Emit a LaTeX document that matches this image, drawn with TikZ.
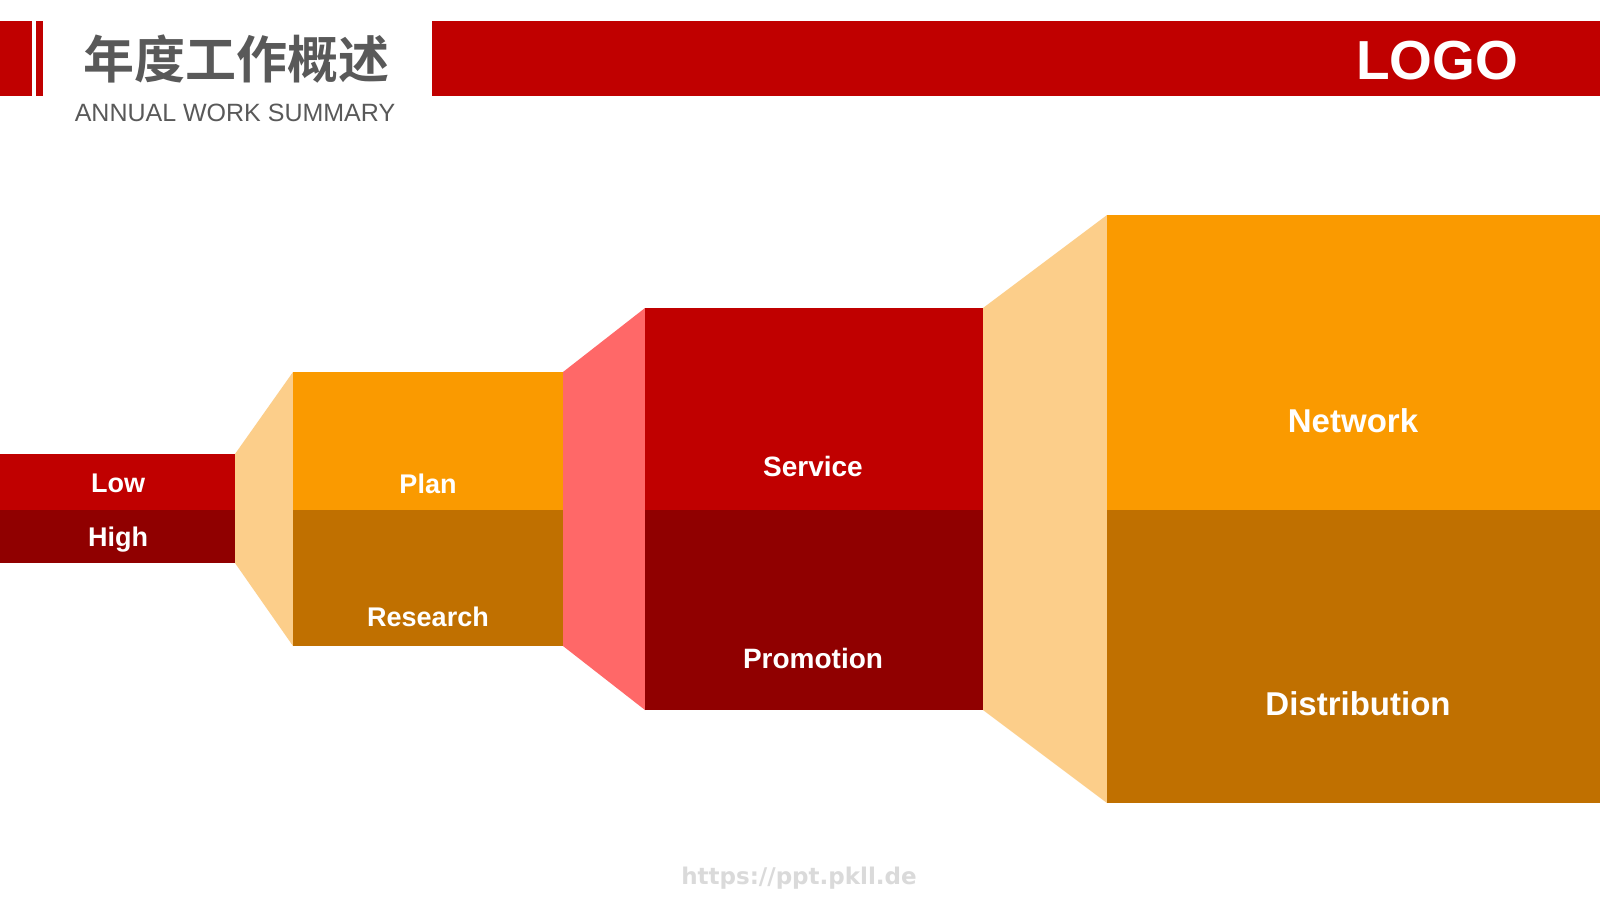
\documentclass[tikz,border=0pt]{standalone}
\usepackage{fontspec}
\setmainfont{Liberation Sans}
\newfontfamily\cjk{Noto Sans CJK SC}[BoldFont=* Bold]
\newfontfamily\wmfont{DejaVu Sans}
\definecolor{cRed}{HTML}{C00000}
\definecolor{cDarkRed}{HTML}{900000}
\definecolor{cOrange}{HTML}{FA9A00}
\definecolor{cDarkOrange}{HTML}{C07000}
\definecolor{cPeach}{HTML}{FCCE8A}
\definecolor{cPink}{HTML}{FF6868}
\definecolor{cGrayText}{HTML}{595959}
\definecolor{cWater}{HTML}{DADADA}
\tikzset{
  lab/.style={text=white, inner sep=0pt, anchor=base},
  labS/.style={lab, font=\fontsize{27}{27}\selectfont\bfseries},
  labM/.style={lab, font=\fontsize{28}{28}\selectfont\bfseries},
  labL/.style={lab, font=\fontsize{33}{33}\selectfont\bfseries},
}
\begin{document}
\begin{tikzpicture}[x=1pt,y=-1pt]
\useasboundingbox (0,0) rectangle (1600,900);
\fill[white] (0,0) rectangle (1600,900);
% header
\fill[cRed] (0,21) rectangle (32,96);
\fill[cRed] (36,21) rectangle (43,96);
\fill[cRed] (432,21) rectangle (1600,96);
\node[inner sep=0pt, text=cGrayText, font=\cjk\bfseries\fontsize{51}{51}\selectfont] (title) at (236,59) {年度工作概述};
\node[inner sep=0pt, anchor=base, text=cGrayText, font=\fontsize{25}{25}\selectfont] (subtitle) at (235,121) {ANNUAL WORK SUMMARY};
\node[inner sep=0pt, anchor=base, text=white, font=\fontsize{55}{55}\selectfont\bfseries] (logo) at (1437,79) {LOGO};
% funnel stage 0
\fill[cRed] (0,454) rectangle (235,510);
\fill[cDarkRed] (0,510) rectangle (235,563);
% connector 1
\fill[cPeach] (235,454) -- (293,372) -- (293,646) -- (235,563) -- cycle;
% stage 1
\fill[cOrange] (293,372) rectangle (563,510);
\fill[cDarkOrange] (293,510) rectangle (563,646);
% connector 2
\fill[cPink] (563,372) -- (645,308) -- (645,710) -- (563,646) -- cycle;
% stage 2
\fill[cRed] (645,308) rectangle (983,510);
\fill[cDarkRed] (645,510) rectangle (983,710);
% connector 3
\fill[cPeach] (983,308) -- (1107,215) -- (1107,803) -- (983,710) -- cycle;
% stage 3
\fill[cOrange] (1107,215) rectangle (1600,510);
\fill[cDarkOrange] (1107,510) rectangle (1600,803);
% labels
\node[labS] (low) at (118,492) {Low};
\node[labS] (high) at (118,546) {High};
\node[labS] (plan) at (428,493) {Plan};
\node[labS] (research) at (428,626) {Research};
\node[labM] (service) at (813,476) {Service};
\node[labM] (promotion) at (813,668) {Promotion};
\node[labL] (network) at (1353,432) {Network};
\node[labL] (distribution) at (1358,715) {Distribution};
% watermark
\node[inner sep=0pt, anchor=base, text=cWater, font=\wmfont\fontsize{23}{23}\selectfont\bfseries] (url) at (799,884) {https://ppt.pkll.de};
\end{tikzpicture}
\end{document}
